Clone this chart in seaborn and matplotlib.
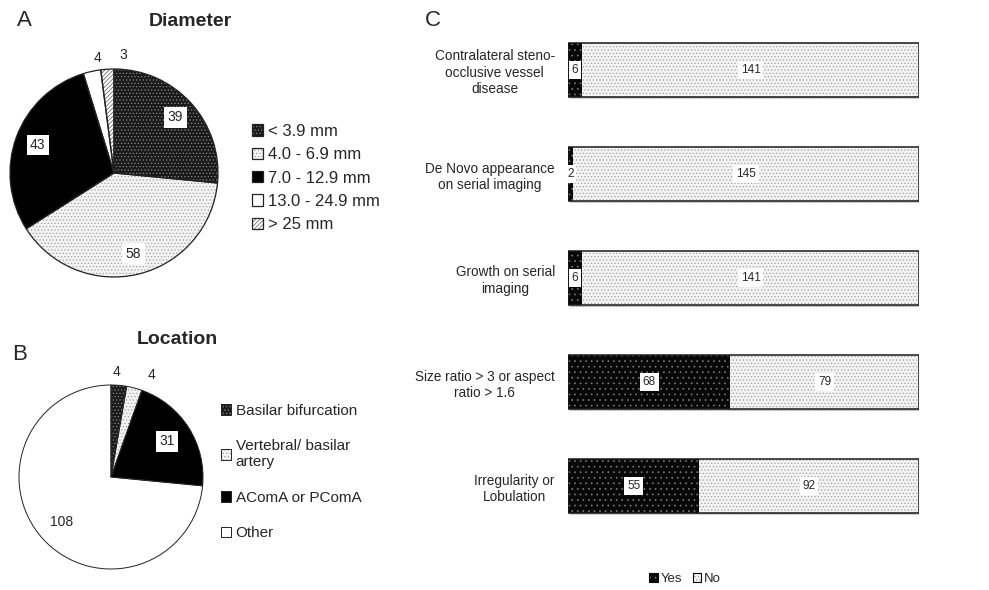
import matplotlib.pyplot as plt
import matplotlib.patches as mpatches
import matplotlib.patheffects as pe
import numpy as np
import seaborn as sns

sns.set_style("white")
plt.rcParams["font.family"] = ["Liberation Sans", "DejaVu Sans"]
plt.rcParams["hatch.linewidth"] = 0.5

# --- data ---
diameter_labels = ["< 3.9 mm", "4.0 - 6.9 mm", "7.0 - 12.9 mm", "13.0 - 24.9 mm", "> 25 mm"]
diameter_counts = [39, 58, 43, 4, 3]

location_labels = ["Basilar bifurcation", "Vertebral/ basilar\nartery", "AComA or PComA", "Other"]
location_counts = [4, 4, 31, 108]

feature_labels = [
    "Contralateral steno-\nocclusive vessel\ndisease",
    "De Novo appearance\non serial imaging",
    "Growth on serial\nimaging",
    "Size ratio > 3 or aspect\nratio > 1.6",
    "Irregularity or\nLobulation",
]
feature_yes = [6, 2, 6, 68, 55]
feature_no = [141, 145, 141, 79, 92]

# fill styles: (face, hatch, hatch colour)
DARK_DOTS = ("#1a1a1a", ".....", "#8a8a8a")
LIGHT_DOTS = ("#f3f3f3", ".....", "#a0a0a0")
BLACK = ("#000000", None, "#000000")
WHITE = ("#ffffff", None, "#ffffff")
DIAGONAL = ("#ffffff", "////////", "#555555")
YES_DOTS = ("#080808", "...", "#7a7a7a")

W, H = 989, 590


def px_axes(fig, x0, y0, x1, y1):
    return fig.add_axes([x0 / W, 1 - y1 / H, (x1 - x0) / W, (y1 - y0) / H])


def draw_pie(ax, counts, styles, center, radius, box, label_spec, edge_lw):
    wedges, _ = ax.pie(counts, startangle=90, counterclock=False,
                       colors=[s[0] for s in styles], wedgeprops=dict(linewidth=0))
    for w, (face, hatch, hc) in zip(wedges, styles):
        if hatch:
            w.set_hatch(hatch)
            w.set_edgecolor(hc)
    outlines, _ = ax.pie(counts, startangle=90, counterclock=False,
                         colors=["none"] * len(counts),
                         wedgeprops=dict(edgecolor="#222222", linewidth=edge_lw))
    # label_spec: (distance from centre, boxed, angular nudge in degrees)
    for w, count, (dist, boxed, nudge) in zip(wedges, counts, label_spec):
        theta = np.deg2rad((w.theta1 + w.theta2) / 2 + nudge)
        bbox = dict(facecolor="white", edgecolor="none", pad=2.5) if boxed else None
        ax.text(dist * np.cos(theta), dist * np.sin(theta), str(count),
                ha="center", va="center", fontsize=10, bbox=bbox)
    x0, y0, x1, y1 = box
    cx, cy = center
    ax.set_aspect("auto")
    ax.set_xlim((x0 - cx) / radius, (x1 - cx) / radius)
    ax.set_ylim((cy - y1) / radius, (cy - y0) / radius)
    return list(zip(wedges, outlines))


fig = plt.figure(figsize=(W / 100, H / 100), dpi=100)

# --- A: diameter ---
box_a = (0, 35, 245, 300)
ax_a = px_axes(fig, *box_a)
handles_a = draw_pie(ax_a, diameter_counts, [DARK_DOTS, LIGHT_DOTS, BLACK, WHITE, DIAGONAL],
                     (114, 173), 104, box_a,
                     [(0.8, True, 0), (0.8, True, 0), (0.78, True, 0),
                      (1.12, False, -4), (1.14, False, -8)], 0.9)
fig.legend([tuple(h) for h in handles_a], diameter_labels, loc="center left",
           bbox_to_anchor=(252 / W, 1 - 178 / H), frameon=False, fontsize=12,
           handlelength=0.65, handleheight=0.65, handletextpad=0.3,
           labelspacing=0.5, borderpad=0, borderaxespad=0)
fig.text(24 / W, 1 - 21 / H, "A", fontsize=16, ha="center", va="center")
fig.text(190 / W, 1 - 22 / H, "Diameter", fontsize=14, fontweight="bold", ha="center", va="center")

# --- B: location ---
box_b = (0, 355, 240, 590)
ax_b = px_axes(fig, *box_b)
handles_b = draw_pie(ax_b, location_counts, [DARK_DOTS, LIGHT_DOTS, BLACK, WHITE],
                     (111, 477), 92, box_b,
                     [(1.14, False, 2), (1.19, False, -7), (0.72, True, 0), (0.72, False, 0)], 0.7)
fig.legend([tuple(h) for h in handles_b], location_labels, loc="center left",
           bbox_to_anchor=(221 / W, 1 - 472 / H), frameon=False, fontsize=11,
           handlelength=0.65, handleheight=0.65, handletextpad=0.3,
           labelspacing=1.4, borderpad=0, borderaxespad=0)
fig.text(20 / W, 1 - 355 / H, "B", fontsize=16, ha="center", va="center")
fig.text(177 / W, 1 - 340 / H, "Location", fontsize=14, fontweight="bold", ha="center", va="center")

# --- C: stacked yes/no bars ---
ax_c = px_axes(fig, 568, 18, 919, 538)
totals = [y + n for y, n in zip(feature_yes, feature_no)]
shadow = [pe.SimplePatchShadow(offset=(1.5, -1.5), shadow_rgbFace="#999999", alpha=0.45), pe.Normal()]
sns.barplot(x=totals, y=feature_labels, orient="h", color=LIGHT_DOTS[0], saturation=1,
            width=0.52, hatch=LIGHT_DOTS[1], edgecolor=LIGHT_DOTS[2], linewidth=0, ax=ax_c)
for p in ax_c.containers[0]:
    p.set_path_effects(shadow)
sns.barplot(x=feature_yes, y=feature_labels, orient="h", color=YES_DOTS[0], saturation=1,
            width=0.52, hatch=YES_DOTS[1], edgecolor=YES_DOTS[2], linewidth=0, ax=ax_c)
sns.barplot(x=totals, y=feature_labels, orient="h", fill=False, width=0.52,
            edgecolor="#1a1a1a", linewidth=1.1, ax=ax_c)

label_box = dict(facecolor="white", edgecolor="none", pad=2)
for i, (yes, no) in enumerate(zip(feature_yes, feature_no)):
    ax_c.text(yes / 2, i, str(yes), ha="center", va="center", fontsize=8.5, bbox=label_box)
    ax_c.text(yes + no / 2, i, str(no), ha="center", va="center", fontsize=8.5, bbox=label_box)

ax_c.set_xlim(0, max(totals))
ax_c.set_xticks([])
ax_c.set_xlabel("")
ax_c.set_ylabel("")
sns.despine(ax=ax_c, left=True, bottom=True)
ax_c.tick_params(axis="y", length=0, pad=9.5, labelsize=9.8)
for t in ax_c.get_yticklabels():
    t.set_multialignment("center")

yes_handle = (mpatches.Patch(facecolor=YES_DOTS[0], hatch=YES_DOTS[1], edgecolor=YES_DOTS[2], linewidth=0),
              mpatches.Patch(fill=False, edgecolor="black", linewidth=0.8))
no_handle = (mpatches.Patch(facecolor=LIGHT_DOTS[0], hatch=LIGHT_DOTS[1], edgecolor=LIGHT_DOTS[2], linewidth=0),
             mpatches.Patch(fill=False, edgecolor="black", linewidth=0.8))
fig.legend([yes_handle, no_handle], ["Yes", "No"], loc="center", ncol=2,
           bbox_to_anchor=(685 / W, 1 - 579 / H), frameon=False, fontsize=9.5,
           handlelength=0.65, handleheight=0.65, handletextpad=0.2, columnspacing=0.8,
           borderpad=0, borderaxespad=0)
fig.text(433 / W, 1 - 21 / H, "C", fontsize=16, ha="center", va="center")

fig.savefig("out.png", dpi=100)
